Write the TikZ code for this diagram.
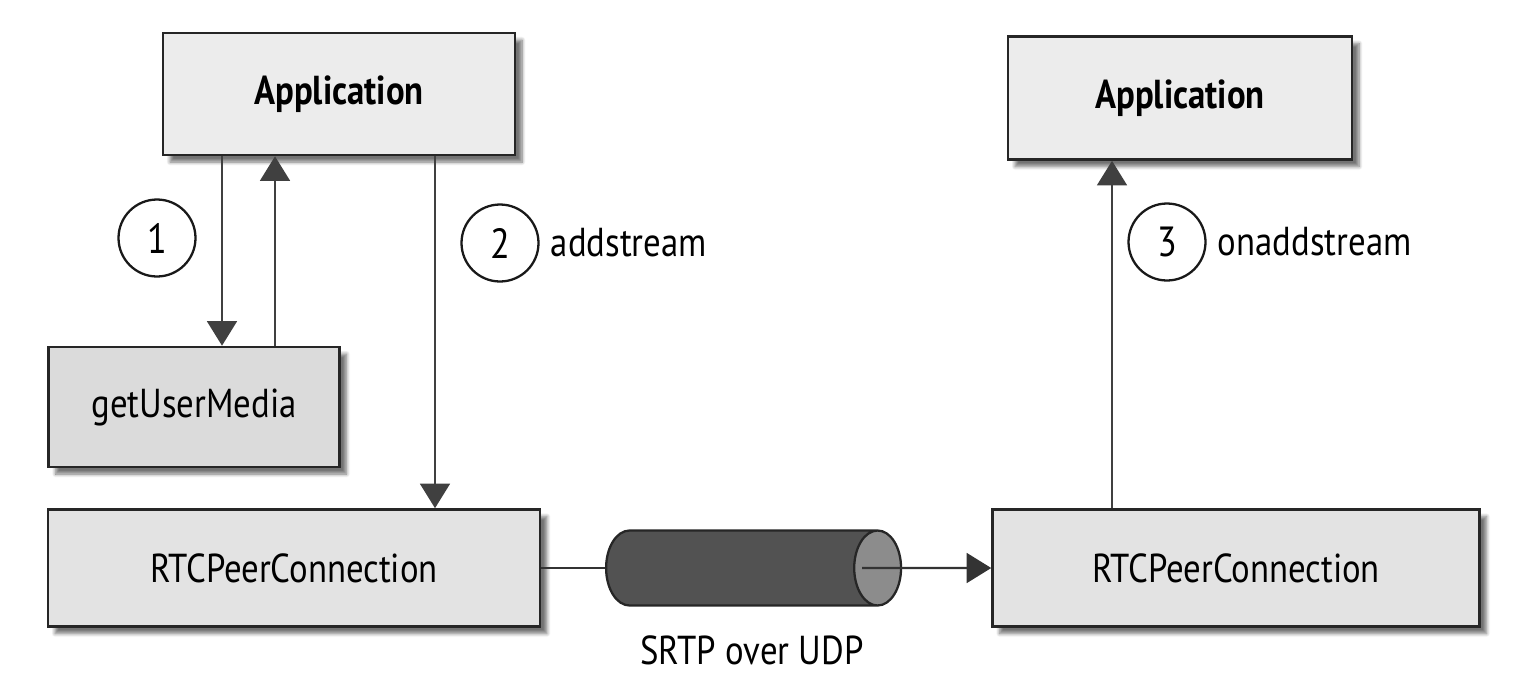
\documentclass[tikz,border=0pt]{standalone}
\usepackage{fontspec}
\setmainfont[FakeStretch=0.86]{PT Sans}
\usetikzlibrary{positioning,arrows.meta,shapes.geometric,shadows.blur}

\begin{document}
\begin{tikzpicture}[x=0.02cm, y=-0.02cm,
  blk/.style={draw=black!85, line width=1.5pt, fill=gray!15,
              font=\fontsize{23}{27}\selectfont, inner sep=2pt,
              blur shadow={shadow xshift=4pt, shadow yshift=-4pt,
                           shadow blur steps=8, shadow opacity=55}},
  num/.style={draw=black!90, circle, line width=1.3pt, minimum size=1.54cm,
              inner sep=0pt, font=\fontsize{24}{28}\selectfont},
  nn/.style={-{Triangle[width=17pt,length=14pt]}, line width=1.3pt, black!75},
  lbl/.style={font=\fontsize{23}{27}\selectfont}
]
\useasboundingbox (0,0) rectangle (1533,673);
% ---------------- boxes ----------------
\node[blk, minimum width=7.04cm, minimum height=2.44cm, font=\fontsize{23}{27}\selectfont\bfseries]
  (app1) at (339,94) {Application};
\node[blk, minimum width=6.88cm, minimum height=2.46cm, font=\fontsize{23}{27}\selectfont\bfseries]
  (app2) at (1180,98) {Application};
\node[blk, fill=gray!28, minimum width=5.82cm, minimum height=2.4cm] (gum) at (194,407) {getUserMedia};
\node[blk, fill=gray!22, minimum width=9.84cm, minimum height=2.34cm] (rtc1) at (294,568) {RTCPeerConnection};
\node[blk, fill=gray!22, minimum width=9.74cm, minimum height=2.34cm] (rtc2) at (1236,568) {RTCPeerConnection};
% ---------------- pipe ----------------
\node[cylinder, draw=black!85, line width=1.3pt, aspect=4,
      minimum width=1.5cm, minimum height=5.9cm, shape border rotate=0,
      cylinder uses custom fill, cylinder body fill=black!68, cylinder end fill=black!45]
  (pipe) at (735,568) {};
\node[lbl] (srtp) at (752,650) {SRTP over UDP};
% ---------------- calls ----------------
\coordinate (c1) at (222,0);
\coordinate (c2) at (275,0);
\coordinate (c3) at (435,0);
\coordinate (c4) at (1112,0);
\draw[nn] (app1.south -| c1) -- (gum.north -| c1);
\draw[nn] (gum.north -| c2) -- (app1.south -| c2);
\draw[nn] (app1.south -| c3) -- (rtc1.north -| c3);
\draw[nn] (rtc2.north -| c4) -- (app2.south -| c4);
\draw[line width=1.3pt, black!80] (rtc1.east) -- (pipe.west);
\draw[nn, black!80] ([xshift=-0.8cm]pipe.east) -- (rtc2.west);
% ---------------- steps ----------------
\node[num] (n1) at (157,238) {1};
\node[num] (n2) at (500,243) {2};
\node[num] (n3) at (1167,242) {3};
\node[lbl, right=0.1cm of n2] (add) {addstream};
\node[lbl, right=0.1cm of n3] (onadd) {onaddstream};
\end{tikzpicture}
\end{document}
